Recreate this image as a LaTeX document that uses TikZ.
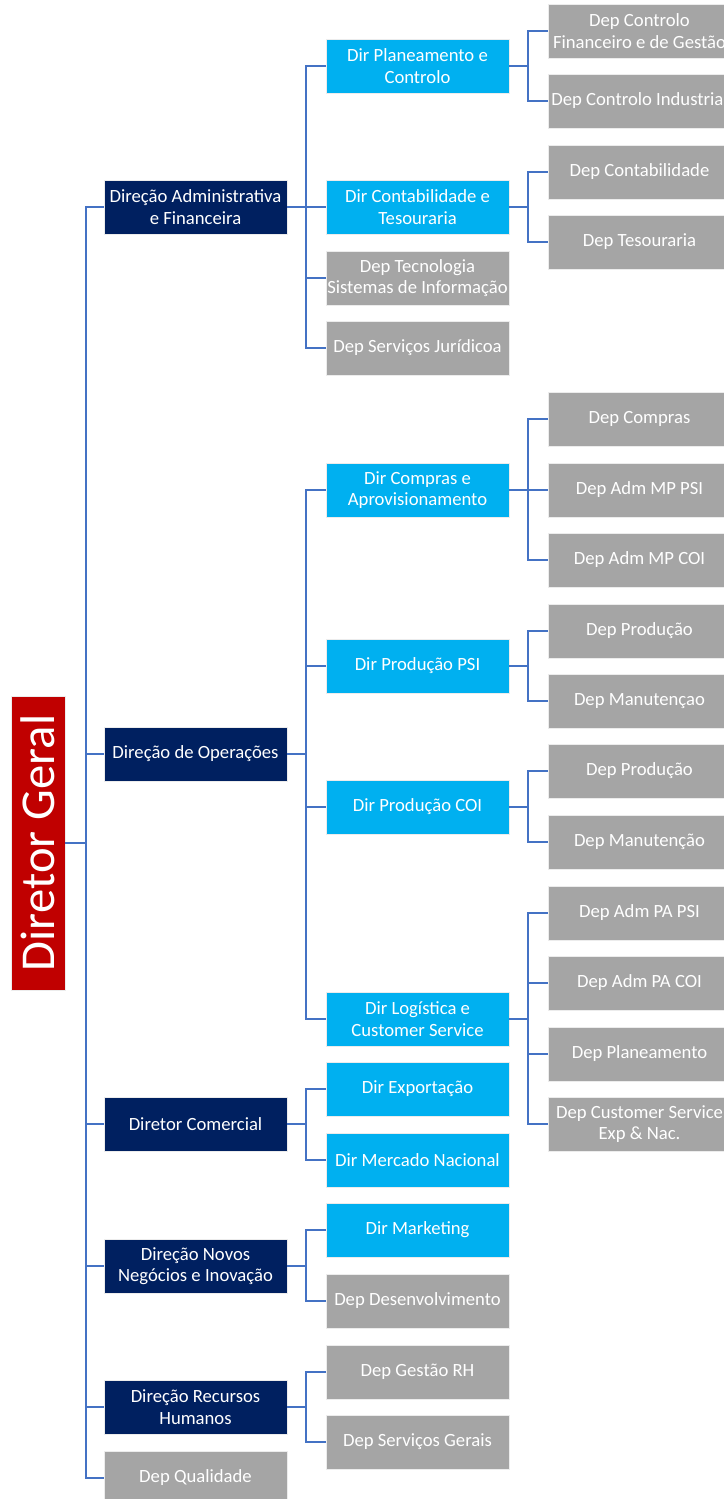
\documentclass[tikz,border=0pt]{standalone}
\usepackage{fontspec}
\setmainfont{Carlito}
\definecolor{geralred}{HTML}{C00000}
\definecolor{navy}{HTML}{002060}
\definecolor{skyblue}{HTML}{00B0F0}
\definecolor{depgray}{HTML}{A5A5A5}
\definecolor{linkblue}{HTML}{4472C4}
\tikzset{
  box/.style={minimum width=137.25pt, minimum height=40.5pt, inner xsep=0pt,
    inner ysep=1pt, align=center, text=white, draw=white!85!gray,
    line width=0.3pt, font=\fontsize{14}{16}\selectfont},
  geral/.style={box, fill=geralred, rotate=90, minimum width=220.5pt,
    font=\fontsize{36.5}{40}\selectfont},
  dirone/.style={box, fill=navy},
  dirtwo/.style={box, fill=skyblue},
  depbox/.style={box, fill=depgray},
  link/.style={draw=linkblue, line width=1.9pt},
}
\begin{document}
\begin{tikzpicture}[x=0.75pt,y=-0.75pt]
\clip (0,0) rectangle (724,1499);
% director
\node[geral] (geral) at (38,843) {Diretor Geral};
% first level
\node[dirone] (adm) at (195.5,207) {Direção Administrativa\\e Financeira};
\node[dirone] (ops) at (195.5,754) {Direção de Operações};
\node[dirone] (com) at (195.5,1124) {Diretor Comercial};
\node[dirone] (nov) at (195.5,1266) {Direção Novos\\Negócios e Inovação};
\node[dirone] (rh) at (195.5,1407) {Direção Recursos\\Humanos};
\node[depbox] (qual) at (195.5,1478) {Dep Qualidade};
% second level
\node[dirtwo] (planctl) at (417.5,66) {Dir Planeamento e\\Controlo};
\node[dirtwo] (contes) at (417.5,207) {Dir Contabilidade e\\Tesouraria};
\node[depbox] (tecsi) at (417.5,278) {Dep Tecnologia\\Sistemas de Informação};
\node[depbox] (jur) at (417.5,348) {Dep Serviços Jurídicoa};
\node[dirtwo] (compaprov) at (417.5,490) {Dir Compras e\\Aprovisionamento};
\node[dirtwo] (prodpsi) at (417.5,666) {Dir Produção PSI};
\node[dirtwo] (prodcoi) at (417.5,807) {Dir Produção COI};
\node[dirtwo] (logcs) at (417.5,1019) {Dir Logística e\\Customer Service};
\node[dirtwo] (export) at (417.5,1089) {Dir Exportação};
\node[dirtwo] (mercnac) at (417.5,1160) {Dir Mercado Nacional};
\node[dirtwo] (mkt) at (417.5,1230) {Dir Marketing};
\node[depbox] (desenv) at (417.5,1301) {Dep Desenvolvimento};
\node[depbox] (gestrh) at (417.5,1372) {Dep Gestão RH};
\node[depbox] (servger) at (417.5,1442) {Dep Serviços Gerais};
% third level
\node[depbox] (ctlfin) at (639.5,31) {Dep Controlo\\Financeiro e de Gestão};
\node[depbox] (ctlind) at (639.5,101) {Dep Controlo Industrial};
\node[depbox] (contab) at (639.5,172) {Dep Contabilidade};
\node[depbox] (tesour) at (639.5,242) {Dep Tesouraria};
\node[depbox] (compras) at (639.5,419) {Dep Compras};
\node[depbox] (mppsi) at (639.5,490) {Dep Adm MP PSI};
\node[depbox] (mpcoi) at (639.5,560) {Dep Adm MP COI};
\node[depbox] (prodpsia) at (639.5,631) {Dep Produção};
\node[depbox] (manpsi) at (639.5,701) {Dep Manutençao};
\node[depbox] (prodcoia) at (639.5,771) {Dep Produção};
\node[depbox] (mancoi) at (639.5,842) {Dep Manutenção};
\node[depbox] (papsi) at (639.5,913) {Dep Adm PA PSI};
\node[depbox] (pacoi) at (639.5,983) {Dep Adm PA COI};
\node[depbox] (planea) at (639.5,1054) {Dep Planeamento};
\node[depbox] (custserv) at (639.5,1124) {Dep Customer Service\\Exp \& Nac.};
% connectors
\foreach \c in {adm,ops,com,nov,rh,qual}
  \draw[link] (geral.south) -- ++(21,0) |- (\c.west);
\foreach \c in {planctl,contes,tecsi,jur}
  \draw[link] (adm.east) -- ++(19,0) |- (\c.west);
\foreach \c in {compaprov,prodpsi,prodcoi,logcs}
  \draw[link] (ops.east) -- ++(19,0) |- (\c.west);
\foreach \c in {export,mercnac}
  \draw[link] (com.east) -- ++(19,0) |- (\c.west);
\foreach \c in {mkt,desenv}
  \draw[link] (nov.east) -- ++(19,0) |- (\c.west);
\foreach \c in {gestrh,servger}
  \draw[link] (rh.east) -- ++(19,0) |- (\c.west);
\foreach \c in {ctlfin,ctlind}
  \draw[link] (planctl.east) -- ++(19,0) |- (\c.west);
\foreach \c in {contab,tesour}
  \draw[link] (contes.east) -- ++(19,0) |- (\c.west);
\foreach \c in {compras,mppsi,mpcoi}
  \draw[link] (compaprov.east) -- ++(19,0) |- (\c.west);
\foreach \c in {prodpsia,manpsi}
  \draw[link] (prodpsi.east) -- ++(19,0) |- (\c.west);
\foreach \c in {prodcoia,mancoi}
  \draw[link] (prodcoi.east) -- ++(19,0) |- (\c.west);
\foreach \c in {papsi,pacoi,planea,custserv}
  \draw[link] (logcs.east) -- ++(19,0) |- (\c.west);
\end{tikzpicture}
\end{document}
